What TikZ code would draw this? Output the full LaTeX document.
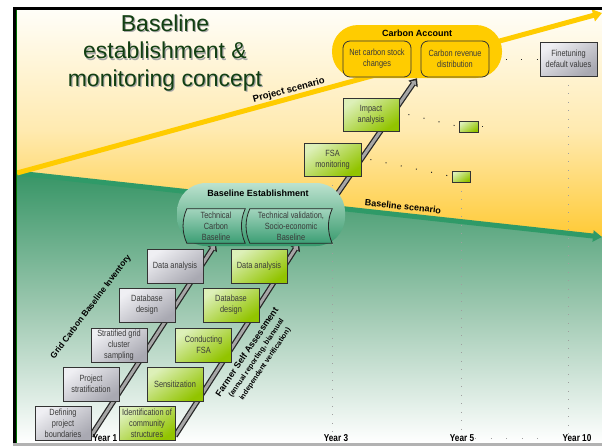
\documentclass[tikz,border=0pt]{standalone}
\usepackage{fontspec}
\setmainfont{Liberation Sans}
\newfontfamily\nar[FakeStretch=0.82]{Liberation Sans}
\usetikzlibrary{arrows.meta}

\definecolor{gold}{HTML}{FFCC00}
\definecolor{titlegreen}{HTML}{123F12}
\definecolor{seagreen}{HTML}{2F9A68}
\definecolor{boxtext}{HTML}{3A3A3A}
\definecolor{bgtop}{HTML}{FFFEF8}
\definecolor{bgmid}{HTML}{FFEAB0}
\definecolor{bggold}{HTML}{FFC626}
\definecolor{grtop}{HTML}{379566}
\definecolor{grmid}{HTML}{9DC8B0}
\definecolor{greyA}{HTML}{EFEFF3}
\definecolor{greyB}{HTML}{A9A9B2}
\definecolor{limeA}{HTML}{DDF0B8}
\definecolor{limeB}{HTML}{92C400}
\definecolor{mintA}{HTML}{BCE2CF}
\definecolor{mintB}{HTML}{36996C}
\definecolor{mintC}{HTML}{A2D4BD}
\definecolor{mintD}{HTML}{3C9E74}

\pgfdeclarelayer{bg}
\pgfdeclarelayer{mid}
\pgfsetlayers{bg,mid,main}

\newcommand\smallbold{\fontsize{7.2}{8.6}\selectfont}

\begin{document}
\begin{tikzpicture}[x=1pt,y=-1pt,
  box/.style={minimum width=56pt, minimum height=34pt, inner sep=0.5pt,
    align=center, draw=black!80, line width=0.8pt, text=boxtext,
    font=\nar\fontsize{9}{11}\selectfont},
  greybox/.style={box, top color=greyA, bottom color=greyB, shading angle=35},
  limebox/.style={box, top color=limeA, bottom color=limeB, shading angle=35},
  minibox/.style={limebox, minimum width=19pt, minimum height=11pt},
  goldbox/.style={box, fill=gold, rounded corners=7pt, minimum width=68pt,
    minimum height=36pt},
  scroll/.style={inner sep=0pt, align=center, text=boxtext,
    font=\nar\fontsize{9}{11}\selectfont, minimum height=34pt},
  scrollshape/.style={draw=black!85, line width=0.8pt, top color=mintC,
    bottom color=mintD},
  lbl/.style={font=\bfseries\fontsize{9}{11}\selectfont, text=black},
  year/.style={font=\bfseries\nar\fontsize{10}{11}\selectfont, text=black,
    inner sep=0pt},
  arrowout/.style={black!85, line width=5.5pt, -{Triangle[length=7pt,width=11pt]}},
  arrowin/.style={gray!70, line width=3pt, shorten >=2.5pt,
    -{Triangle[length=4pt,width=6.5pt]}},
  hdots/.style={black!85, line width=1pt, dash pattern=on 1pt off 14.5pt},
  vdots/.style={gray!75, line width=1pt, dash pattern=on 1pt off 7.5pt},
  bdots/.style={gray!75, line width=1pt, dash pattern=on 1pt off 14.5pt},
]
\useasboundingbox (0,0) rectangle (602,447);

% ---------- backdrop, scenario lines and frame ----------
\begin{pgfonlayer}{bg}
  \fill[white] (0,0) rectangle (602,447);
  \shade[top color=bgtop, bottom color=bggold, middle color=bgmid]
    (17,10) rectangle (602,250);
  \shade[top color=grtop, bottom color=white, middle color=grmid]
    (17,173) -- (602,237) -- (602,443) -- (17,443) -- cycle;
  \coordinate (origin) at (17,173);
  \coordinate (projend) at (602,13);
  \coordinate (baseend) at (602,237);
  \draw[seagreen, line width=5pt, -{Triangle[length=9pt,width=11pt]}]
    (origin) -- (baseend);
  \draw[gold, line width=5pt, -{Triangle[length=9pt,width=12pt]}]
    (origin) -- (projend);
  \draw[black, line width=2.5pt] (13,8.25) -- (602,8.25);
  \draw[black, line width=3pt] (14.5,7) -- (14.5,444);
  \draw[green!45!black, line width=0.8pt] (16.4,10) -- (16.4,443);
  \draw[gray!60, line width=2.5pt] (13,444.5) -- (602,444.5);
\end{pgfonlayer}

% ---------- title ----------
\node[align=center, text=black!35, font=\fontsize{23}{27.5}\selectfont]
  (titleshadow) at (166.2,54.2) {Baseline\\establishment \&\\monitoring concept};
\node[align=center, text=titlegreen, font=\fontsize{23}{27.5}\selectfont]
  (title) at (165,53) {Baseline\\establishment \&\\monitoring concept};

% ---------- scenario labels ----------
\node[lbl, font=\bfseries\fontsize{9.5}{11}\selectfont, rotate=15.2]
  (projlabel) at (289,90.5) {Project scenario};
\node[lbl, rotate=-6] (baselabel) at (403,206.5) {Baseline scenario};

% ---------- grid carbon baseline inventory ----------
\node[greybox] (def)  at (63,423.5) {Defining\\project\\boundaries};
\node[greybox] (pstr) at (91,384)   {Project\\stratification};
\node[greybox] (sgc)  at (119,345)  {Stratified grid\\cluster\\sampling};
\node[greybox] (dbd)  at (147,305)  {Database\\design};
\node[greybox] (dan)  at (175,266)  {Data analysis};
\node[lbl, font=\bfseries\fontsize{8.5}{10}\selectfont, rotate=53]
  (gcbi) at (91,307) {Grid Carbon Baseline Inventory};

% ---------- farmer self assessment ----------
\node[limebox] (ics)  at (147,423.5) {Identification of\\community\\structures};
\node[limebox] (sen)  at (175,384)   {Sensitization};
\node[limebox] (cfsa) at (203.5,345) {Conducting\\FSA};
\node[limebox] (gdb)  at (231,305)   {Database\\design};
\node[limebox] (gdan) at (259,266)   {Data analysis};
\node[rotate=56, align=center, text=black, inner sep=0pt,
  font=\bfseries\fontsize{9}{10.5}\selectfont] (fsa) at (256,358)
  {Farmer Self Assessment\\
   \smallbold (annual reporting, biannual\\
   \smallbold independent verification)};

% ---------- monitoring ----------
\node[limebox, minimum width=57pt, minimum height=33pt] (fsam) at (332.5,159.5)
  {FSA\\monitoring};
\node[limebox, minimum height=33pt] (impa) at (371,114.5) {Impact\\analysis};
\node[minibox] (sb1) at (468.5,126.5) {};
\node[minibox, minimum width=18pt] (sb2) at (461,176.5) {};

% ---------- baseline establishment ----------
\node[top color=mintA, bottom color=mintB, rounded corners=29pt,
  minimum width=168pt, minimum height=63pt] (be) at (261,214.5) {};
\node[lbl] (betitle) at (258,193) {Baseline Establishment};
\node[scroll, minimum width=58pt] (tcb) at (216,226) {};
\node[scroll, minimum width=82pt] (tvb) at (291,226) {};
\foreach \s in {tcb,tvb}{
  \shade[scrollshape] (\s.north west) .. controls +(-5,11) and +(-5,-11) ..
    (\s.south west) -- (\s.south east) .. controls +(-5,-11) and +(-5,11) ..
    (\s.north east) -- cycle;
}
\node[scroll, minimum width=58pt] (tcbtext) at (tcb) {Technical\\Carbon\\Baseline};
\node[scroll, minimum width=82pt] (tvbtext) at (tvb)
  {Technical validation,\\Socio-economic\\Baseline};

% ---------- carbon account ----------
\node[fill=gold, rounded corners=26pt, minimum width=170pt, minimum height=53pt]
  (ca) at (417,51.5) {};
\node[lbl] (catitle) at (417,33.5) {Carbon Account};
\node[goldbox] (ncs) at (377,59) {Net carbon stock\\changes};
\node[goldbox] (crd) at (455,59) {Carbon revenue\\distribution};
\node[greybox, minimum width=57pt] (ftd) at (568.5,59) {Finetuning\\default values};

% ---------- time axis ----------
\node[year] (y1)  at (105,438) {Year 1};
\node[year] (y3)  at (336,438) {Year 3};
\node[year] (y5)  at (462,438) {Year 5};
\node[year] (y10) at (577,438) {Year 10};

% ---------- connectors ----------
\coordinate (gstart) at (91,436);
\coordinate (lstart) at (175,436);
\coordinate (mstart) at (309,235);
\begin{pgfonlayer}{mid}
  \draw[vdots] (fsam.south) -- (fsam.south |- y3.north);
  \draw[vdots] (sb2.south) -- (sb2.south |- y5.north);
  \draw[vdots] (ftd.south) -- (ftd.south |- y10.north);
  \draw[hdots] ([xshift=9pt]impa.east) -- (sb1.west);
  \draw[hdots] ([xshift=4pt]sb1.east) -- ++(1,0);
  \draw[hdots] ([xshift=9pt]fsam.east) -- (sb2.west);
  \draw[hdots] ([xshift=1pt]crd.east) -- (ftd.west);
  \draw[bdots] ([xshift=1pt]y5.east) -- ([xshift=-12pt]y10.west);

  \draw[arrowout] (gstart) -- (tcb.south);
  \draw[arrowin]  (gstart) -- (tcb.south);
  \draw[arrowout] (lstart) -- ([xshift=8pt]tvb.south);
  \draw[arrowin]  (lstart) -- ([xshift=8pt]tvb.south);
  \draw[arrowout] (mstart) -- (ca.south);
  \draw[arrowin]  (mstart) -- (ca.south);
\end{pgfonlayer}
\end{tikzpicture}
\end{document}
